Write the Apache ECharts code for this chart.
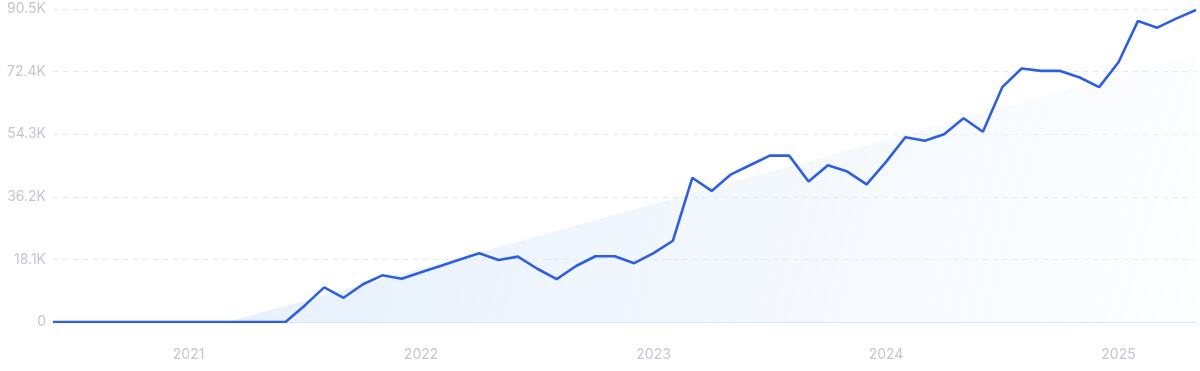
<!DOCTYPE html>
<html><head><meta charset="utf-8">
<script src="https://cdn.jsdelivr.net/npm/echarts@6/dist/echarts.min.js"></script>
<style>html,body{margin:0;padding:0;background:#fff}#c{width:1200px;height:371px}</style>
</head><body><div id="c"></div>
<script>
// Months from 2020-06 to 2025-05
const months = [];
for (let y = 2020; y <= 2025; y++) {
  for (let m = 1; m <= 12; m++) {
    if ((y === 2020 && m < 6) || (y === 2025 && m > 5)) continue;
    months.push(y + '-' + String(m).padStart(2, '0'));
  }
}
const values = [
  0, 0, 0, 0, 0, 0, 0, 0, 0, 0, 0, 0,            // 2020-06 .. 2021-05
  0, 4800, 10000, 7000, 10900, 13500, 12500,       // 2021-06 .. 2021-12
  14400, 16200, 18100, 19900, 17900, 18900, 15400, 12400, 16200, 19000, 19000, 17000, // 2022
  19900, 23500, 41700, 37900, 42700, 45400, 48100, 48100, 40600, 45300, 43500, 39800, // 2023
  46300, 53400, 52400, 54300, 58900, 55000, 67900, 73300, 72600, 72600, 70700, 67900, // 2024
  75100, 87000, 85100, 87800, 90200                // 2025-01 .. 2025-05
];
const trendStartMonth = '2021-03';
const trendEndValue = 77500;
const yTicks = ['0', '18.1K', '36.2K', '54.3K', '72.4K', '90.5K'];
const yMax = 90500, yInterval = 18100;

const trend = months.map(function (m, i) {
  if (m === trendStartMonth) return 0;
  if (i === months.length - 1) return trendEndValue;
  return '-';
});

const chart = echarts.init(document.getElementById('c'));
chart.setOption({
  animation: false,
  grid: { left: 53, right: 4, top: 9, bottom: 49 },
  xAxis: {
    type: 'category',
    data: months,
    boundaryGap: false,
    axisLine: { show: true, lineStyle: { color: '#d3e6fb', width: 1 } },
    axisTick: { show: false },
    axisLabel: {
      interval: function (idx, val) { return val.slice(5) === '01'; },
      formatter: function (v) { return v.slice(0, 4); },
      color: '#c3c6ce', fontSize: 14, fontFamily: 'Inter, "Noto Sans", sans-serif', margin: 26
    },
    splitLine: { show: false }
  },
  yAxis: {
    type: 'value', min: 0, max: yMax, interval: yInterval,
    axisLine: { show: false }, axisTick: { show: false },
    axisLabel: {
      formatter: function (v) { return yTicks[Math.round(v / yInterval)]; },
      color: '#c3c6ce', fontSize: 14, fontFamily: 'Inter, "Noto Sans", sans-serif', margin: 7
    },
    splitLine: { show: true, lineStyle: { color: '#dfe8f5', type: [5, 5], width: 1 } }
  },
  series: [
    {
      type: 'line', data: trend, connectNulls: true, symbol: 'none',
      lineStyle: { width: 0, opacity: 0 },
      areaStyle: {
        color: new echarts.graphic.LinearGradient(0, 0, 1, 1, [
          { offset: 0, color: 'rgba(214,230,250,0.95)' },
          { offset: 1, color: 'rgba(248,251,255,0.6)' }
        ])
      },
      z: 1, silent: true
    },
    {
      type: 'line', data: values, symbol: 'none',
      lineStyle: { color: '#2d5fe0', width: 2.6 },
      z: 3
    }
  ]
});
</script></body></html>
